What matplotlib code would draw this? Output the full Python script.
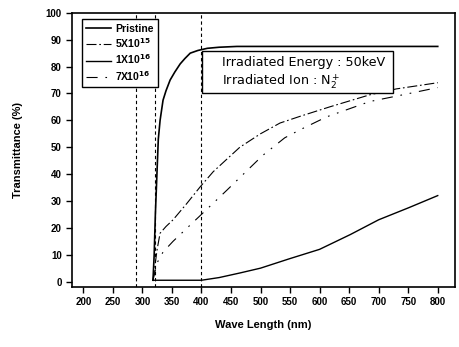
import matplotlib.pyplot as plt
from matplotlib.patches import Rectangle

plt.rcParams["font.family"] = ["Liberation Sans", "DejaVu Sans"]

# transmittance spectra (wavelength in nm, T in %)
wl_pristine = [318, 320, 322, 325, 327, 330, 335, 340, 347, 355, 364, 372, 381, 394, 410, 430, 460, 500, 600, 700, 800]
t_pristine = [0.5, 10, 25, 42, 53, 60, 67.5, 71, 75, 78, 81, 83, 85, 86, 86.8, 87.2, 87.5, 87.5, 87.5, 87.5, 87.5]

wl_5e15 = [318, 322, 325, 330, 340, 352, 375, 398, 420, 465, 500, 533, 567, 617, 685, 730, 800]
t_5e15 = [0.5, 7, 12, 18, 20.5, 23, 29, 35.3, 40.9, 50, 55, 59, 61.5, 65, 69.5, 71.7, 74]

wl_1e16 = [318, 350, 400, 430, 465, 500, 549, 600, 652, 700, 751, 800]
t_1e16 = [0.5, 0.5, 0.5, 1.5, 3.2, 5, 8.5, 12, 17.5, 23, 27.5, 32]

wl_7e16 = [318, 325, 335, 352, 400, 443, 465, 504, 541, 567, 612, 685, 752, 800]
t_7e16 = [0.5, 7, 11, 15, 25, 34, 38.7, 47, 53.5, 56.5, 61.3, 67, 70, 72.2]

marker_lines = [290, 321, 400]

x_ticks = list(range(200, 801, 50))
y_ticks = list(range(0, 101, 10))

fig = plt.figure(figsize=(4.59, 3.47), dpi=100)
ax = fig.add_axes([0.157, 0.173, 0.834, 0.790])

for xv in marker_lines:
    ax.axvline(xv, color="black", lw=0.8, ls=(0, (3, 2.5)), zorder=1)

ax.plot(wl_pristine, t_pristine, color="black", lw=1.2, label="Pristine", zorder=3)
ax.plot(wl_5e15, t_5e15, color="black", lw=0.8, ls=(0, (9, 2.5, 1.5, 2.5)),
        label=r"5X10$^{\mathbf{15}}$", zorder=3)
ax.plot(wl_1e16, t_1e16, color="black", lw=1.0, label=r"1X10$^{\mathbf{16}}$", zorder=3)
ax.plot(wl_7e16, t_7e16, color="black", lw=0.8, ls=(0, (10, 7, 1.5, 7, 1.5, 7)),
        label=r"7X10$^{\mathbf{16}}$", zorder=3)

ax.set_xlim(181, 829)
ax.set_ylim(-2, 100)
ax.set_xticks(x_ticks)
ax.set_yticks(y_ticks)
ax.tick_params(direction="out", length=4, width=1, labelsize=7)
for lbl in ax.get_xticklabels() + ax.get_yticklabels():
    lbl.set_fontweight("bold")
for s in ax.spines.values():
    s.set_linewidth(1.2)

ax.set_xlabel("Wave Length (nm)", fontsize=8, fontweight="bold", labelpad=9)
ax.set_ylabel("Transmittance (%)", fontsize=8, fontweight="bold", labelpad=16)

leg = ax.legend(loc="upper left", bbox_to_anchor=(0.012, 0.995),
                prop={"weight": "bold", "size": 7.5}, handlelength=2.4,
                handletextpad=0.4, borderpad=0.4, labelspacing=0.25,
                fancybox=False, framealpha=1, edgecolor="black")
leg.get_frame().set_linewidth(1.0)

# annotation box with irradiation conditions
ax.add_patch(Rectangle((401, 70.3), 323, 15.6, fc="white", ec="black", lw=1.0, zorder=5))
ax.text(434, 81.4, "Irradiated Energy : 50keV", family="DejaVu Sans",
        fontsize=9.2, va="center", ha="left", zorder=6)
ax.text(434, 74.6, "Irradiated Ion : N$_2^+$", family="DejaVu Sans",
        fontsize=9.2, va="center", ha="left", zorder=6)

fig.savefig("out.png", dpi=100)
